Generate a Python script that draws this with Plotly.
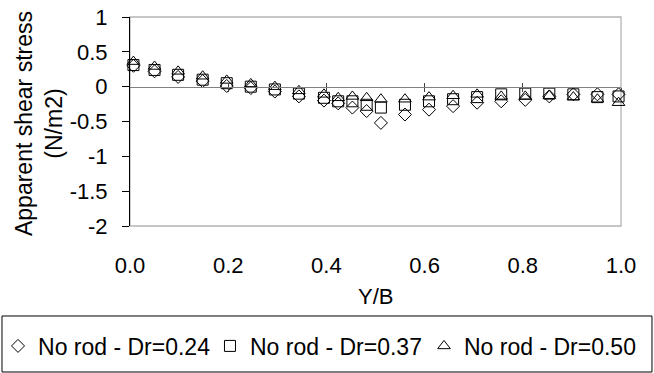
import plotly.graph_objects as go

# Data
y_over_b = [0.007, 0.05, 0.098, 0.148, 0.197, 0.246, 0.295, 0.344, 0.395, 0.424,
            0.453, 0.482, 0.511, 0.56, 0.609, 0.658, 0.707, 0.756, 0.805, 0.854,
            0.903, 0.952, 0.995]
stress_dr024 = [0.30, 0.22, 0.14, 0.08, 0.01, -0.02, -0.07, -0.14, -0.20, -0.24,
                -0.30, -0.35, -0.52, -0.40, -0.33, -0.28, -0.23, -0.21, -0.19, -0.14,
                -0.11, -0.11, -0.11]
stress_dr037 = [0.31, 0.24, 0.17, 0.10, 0.05, 0.00, -0.04, -0.10, -0.16, -0.21,
                -0.21, -0.26, -0.30, -0.26, -0.21, -0.18, -0.15, -0.11, -0.10, -0.10,
                -0.11, -0.15, -0.14]
stress_dr050 = [0.36, 0.29, 0.22, 0.15, 0.09, 0.04, 0.00, -0.06, -0.11, -0.16,
                -0.14, -0.16, -0.18, -0.18, -0.15, -0.13, -0.11, -0.14, -0.14, -0.13,
                -0.15, -0.18, -0.23]

series_names = ["No rod - Dr=0.24", "No rod - Dr=0.37", "No rod - Dr=0.50"]
x_tick_vals = [0.0, 0.2, 0.4, 0.6, 0.8, 1.0]
x_tick_text = ["0.0", "0.2", "0.4", "0.6", "0.8", "1.0"]
y_tick_vals = [1, 0.5, 0, -0.5, -1, -1.5, -2]
y_tick_text = ["1", "0.5", "0", "-0.5", "-1", "-1.5", "-2"]

FONT = "Liberation Sans, Arial, sans-serif"

fig = go.Figure()
symbols = ["diamond-open", "square-open", "triangle-up-open"]
sizes = [10, 11, 11]
legend_ids = ["legend", "legend2", "legend3"]
for name, vals, sym, sz, lg in zip(series_names, [stress_dr024, stress_dr037, stress_dr050],
                                   symbols, sizes, legend_ids):
    fig.add_trace(go.Scatter(
        x=y_over_b, y=vals, mode="markers", name=name, legend=lg,
        marker=dict(symbol=sym, size=sz, color="black", line=dict(color="black", width=1)),
        cliponaxis=False,
    ))

# helper axes carrying the zero line with crossing tick marks
fig.add_trace(go.Scatter(x=[None], y=[None], xaxis="x2", showlegend=False, hoverinfo="skip"))
fig.add_trace(go.Scatter(x=[None], y=[None], xaxis="x3", showlegend=False, hoverinfo="skip"))

def legend_at(xpos):
    return dict(orientation="h", x=xpos, xanchor="left", y=-0.574, yanchor="middle",
                font=dict(size=23, family=FONT, color="black"), bgcolor="rgba(0,0,0,0)",
                borderwidth=0, itemclick=False, itemdoubleclick=False)

fig.update_layout(
    width=654, height=373,
    margin=dict(l=130, r=33, t=17, b=147, autoexpand=False),
    paper_bgcolor="white", plot_bgcolor="white",
    font=dict(family=FONT, size=22, color="black"),
    showlegend=True,
    xaxis=dict(range=[0, 1], tickvals=x_tick_vals, ticktext=x_tick_text,
               showgrid=False, zeroline=False, showline=False, ticks="",
               ticklabelstandoff=24, tickfont=dict(size=22)),
    xaxis2=dict(range=[0, 1], overlaying="x", anchor="free", position=2/3,
                tickvals=x_tick_vals[1:], showticklabels=False, showgrid=False,
                zeroline=False, showline=True, linecolor="#808080", linewidth=1.3,
                ticks="outside", ticklen=4, tickcolor="#404040"),
    xaxis3=dict(range=[0, 1], overlaying="x", anchor="free", position=2/3,
                tickvals=x_tick_vals[1:], showticklabels=False, showgrid=False,
                zeroline=False, showline=False,
                ticks="inside", ticklen=4, tickcolor="#404040"),
    yaxis=dict(range=[-2, 1], tickvals=y_tick_vals, ticktext=y_tick_text,
               showgrid=False, zeroline=False, showline=True, linecolor="black",
               linewidth=1, ticks="outside", ticklen=7, tickcolor="black",
               ticklabelstandoff=10, tickfont=dict(size=22)),
    legend=legend_at(-0.2688),
    legend2=legend_at(0.1629),
    legend3=legend_at(0.5988),
    shapes=[
        dict(type="rect", xref="paper", yref="paper", x0=0, x1=1, y0=0, y1=1,
             line=dict(color="#b4b4b4", width=1.3), layer="below"),
        dict(type="rect", xref="paper", yref="paper", x0=-0.2607, x1=1.0631,
             y0=-0.4306, y1=-0.6986, line=dict(color="black", width=1)),
    ],
    annotations=[
        dict(text="Apparent shear stress<br>(N/m2)", xref="paper", yref="paper",
             x=-0.1853, y=0.488, xanchor="center", yanchor="middle", textangle=-90,
             showarrow=False, font=dict(size=23, family=FONT)),
        dict(text="Y/B", xref="paper", yref="paper", x=0.499, y=-0.335,
             xanchor="center", yanchor="middle", showarrow=False,
             font=dict(size=22, family=FONT)),
    ],
)

fig.write_html("out.html")
